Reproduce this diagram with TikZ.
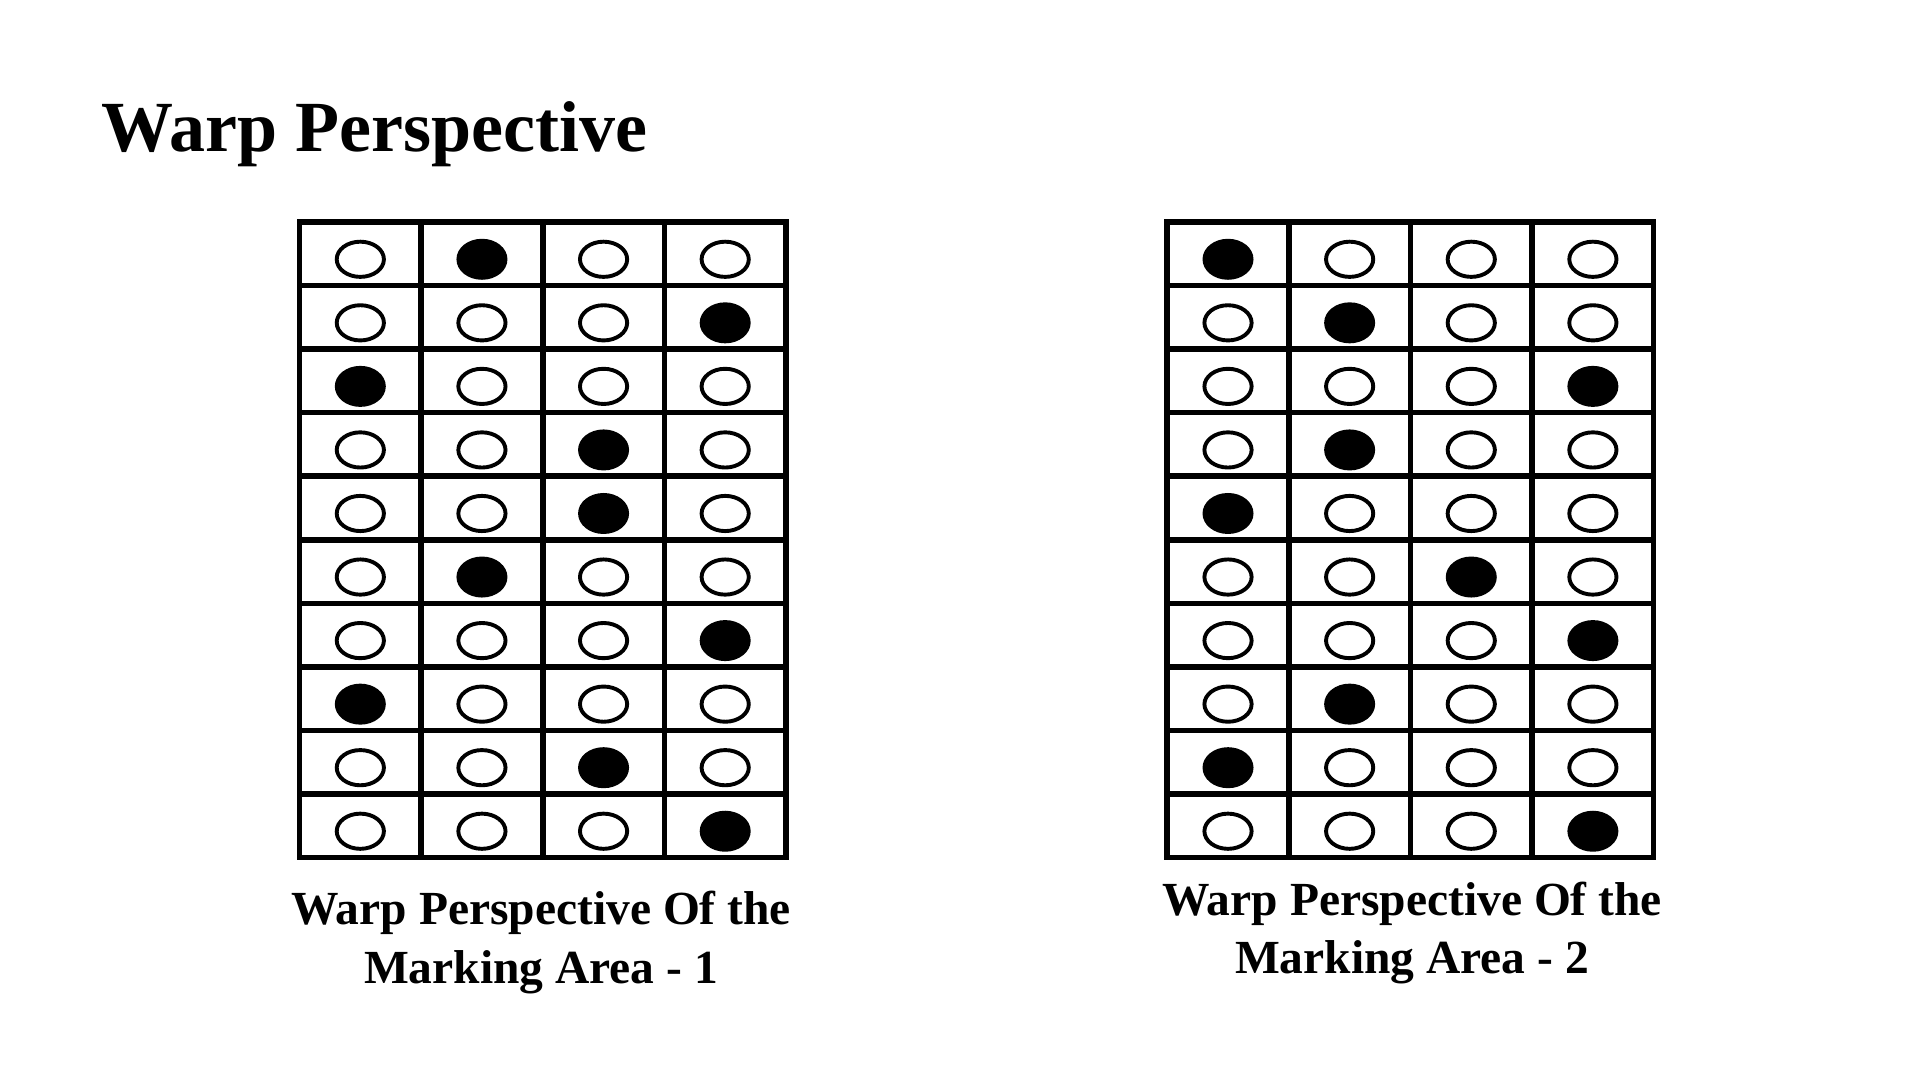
\documentclass[tikz,border=0pt]{standalone}
\usepackage{fontspec}
\setmainfont{Liberation Serif}
\newcommand\warpgrid[2]{%
  \foreach \f [count=\r from 0] in {#2} {
    \foreach \c in {0,1,2,3} {
      \pgfmathsetmacro\cx{#1+(\c+0.5)*121.625}
      \pgfmathsetmacro\cy{222+(\r+0.5)*63.55+5.5}
      \ifnum\c=\numexpr\f-1\relax
        \fill[fulldot] (\cx,\cy) ellipse [x radius=25.5pt, y radius=20.5pt];
      \else
        \draw[opendot] (\cx,\cy) ellipse [x radius=23.6pt, y radius=17.6pt];
      \fi
    }
  }
  \foreach \i in {1,2,3} \draw[gridline] ({#1+\i*121.625},222) -- ++(0,635.5);
  \foreach \j in {1,...,9} \draw[gridline] (#1,{222+\j*63.55}) -- ++(486.5,0);
  \draw[gridline] (#1,222) rectangle ++(486.5,635.5);
}
\begin{document}
\begin{tikzpicture}[x=1pt,y=-1pt,
  gridline/.style={draw=black, line width=5.5pt},
  opendot/.style={draw=black, line width=3.9pt, fill=white},
  fulldot/.style={fill=black},
  titletext/.style={font=\fontsize{72}{86}\selectfont\bfseries, inner sep=0pt, anchor=base west},
  captext/.style={font=\fontsize{47.5}{57}\selectfont\bfseries, inner sep=0pt, anchor=base},
]
\useasboundingbox (0,0) rectangle (1920,1080);
\fill[white] (0,0) rectangle (1920,1080);

\node[titletext] (title) at (101,151) {Warp Perspective};

\warpgrid{299.5}{2,4,1,3,3,2,4,1,3,4}
\warpgrid{1167.2}{1,2,4,2,1,3,4,2,1,4}

\node[captext] (cap1a) at (541,924.3) {Warp Perspective Of the};
\node[captext] (cap1b) at (541,983.1) {Marking Area - 1};
\node[captext] (cap2a) at (1412,915.1) {Warp Perspective Of the};
\node[captext] (cap2b) at (1412,973.9) {Marking Area - 2};
\end{tikzpicture}
\end{document}
